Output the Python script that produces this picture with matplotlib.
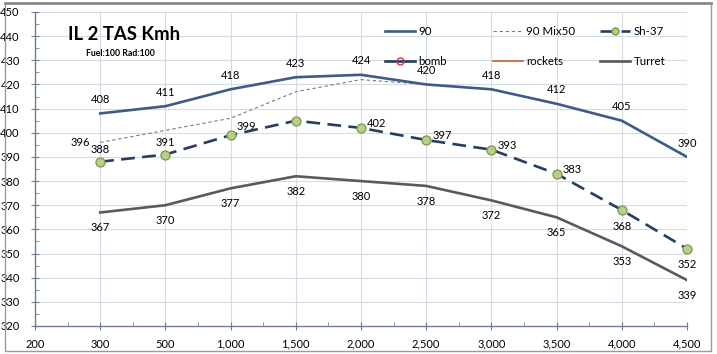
import numpy as np
import matplotlib
matplotlib.use("Agg")
import matplotlib.pyplot as plt
from matplotlib.lines import Line2D
from matplotlib.patches import Rectangle

plt.rcParams['font.family'] = ['Lato', 'DejaVu Sans']

# categories on the x axis (first one has no data)
cats = ['200', '300', '500', '1,000', '1,500', '2,000', '2,500', '3,000', '3,500', '4,000', '4,500']
nan = np.nan
s90 = [nan, 408, 411, 418, 423, 424, 420, 418, 412, 405, 390]
mix50 = [nan, 396, 401, 406, 417, 422, 420, 418, 412, 405, 390]
sh37 = [nan, 388, 391, 399, 405, 402, 397, 393, 383, 368, 352]
turret = [nan, 367, 370, 377, 382, 380, 378, 372, 365, 353, 339]
bomb = []
rockets = []

# which labels are shown and where
mix50_labels = [1]
sh37_right = [3, 5, 6, 7, 8]
sh37_above = [1, 2]
sh37_below = [9, 10]

x = np.arange(len(cats))

fig = plt.figure(figsize=(7.17, 3.54), dpi=100)
ax = fig.add_axes([35/717, 28/354, 652/717, 314/354])

c90 = '#3e5b85'
csh = '#253d5e'
cturret = '#5a5a5a'

ax.plot(x, mix50, color='#7a7a7a', lw=0.8, dashes=(3, 2.5), zorder=2)
ax.plot(x, s90, color=c90, lw=1.9, zorder=3)
ax.plot(x, turret, color=cturret, lw=1.9, zorder=3)
ax.plot(x, sh37, color=csh, lw=1.9, dashes=(5.2, 2.8), marker='o', ms=6.5,
        mfc='#b6cf8d', mec='#7b9a45', mew=0.9, zorder=4, clip_on=False)

fs = 8
for i in range(1, len(cats)):
    ax.annotate(str(s90[i]), (x[i], s90[i]), xytext=(0, 10), textcoords='offset points',
                ha='center', va='center', fontsize=fs)
    ax.annotate(str(turret[i]), (x[i], turret[i]), xytext=(0, -11), textcoords='offset points',
                ha='center', va='center', fontsize=fs)
for i in mix50_labels:
    ax.annotate(str(mix50[i]), (x[i], mix50[i]), xytext=(-7, 0), textcoords='offset points',
                ha='right', va='center', fontsize=fs)
for i in sh37_above:
    ax.annotate(str(sh37[i]), (x[i], sh37[i]), xytext=(0, 8.5), textcoords='offset points',
                ha='center', va='center', fontsize=fs)
for i in sh37_right:
    dy = 6 if i == 3 else 3
    ax.annotate(str(sh37[i]), (x[i], sh37[i]), xytext=(4.5, dy), textcoords='offset points',
                ha='left', va='center', fontsize=fs)
for i in sh37_below:
    ax.annotate(str(sh37[i]), (x[i], sh37[i]), xytext=(0, -11.5), textcoords='offset points',
                ha='center', va='center', fontsize=fs)

ax.set_xlim(0, len(cats) - 1)
ax.set_ylim(320, 450)
ax.set_xticks(x)
ax.set_xticklabels(cats)
ax.set_xticks(x[:-1] + 0.5, minor=True)
ax.set_yticks(np.arange(320, 451, 10))
ax.set_yticks(np.arange(325, 450, 10), minor=True)
ax.grid(True, which='major', color='#d3dbe6', lw=0.8)
ax.set_axisbelow(True)
for s in ['top', 'right']:
    ax.spines[s].set_visible(False)
for s in ['left', 'bottom']:
    ax.spines[s].set_color('#6f7d91')
    ax.spines[s].set_linewidth(1.0)
ax.tick_params(which='major', direction='inout', length=6, color='#6f7d91', labelsize=8, pad=6)
ax.tick_params(axis='y', which='major', pad=8)
ax.tick_params(which='minor', direction='in', length=3, color='#6f7d91')

# legend: three columns of two rows
cols = [
    [(Line2D([], [], color=c90, lw=1.9), '90'),
     (Line2D([], [], color=csh, lw=1.9, marker='o', ms=5, mfc='none', mec='#e03040'), 'bomb')],
    [(Line2D([], [], color='#7a7a7a', lw=0.8, dashes=(3, 2.5)), '90 Mix50'),
     (Line2D([], [], color='#c0652a', lw=1.2), 'rockets')],
    [(Line2D([], [], color=csh, lw=1.9, dashes=(5.2, 2.8), marker='o', ms=5,
             mfc='#b6cf8d', mec='#7b9a45'), 'Sh-37'),
     (Line2D([], [], color=cturret, lw=1.9), 'Turret')],
]
ax.plot(bomb, bomb)
ax.plot(rockets, rockets)
col_x = [385, 493, 600]
for cx, entries in zip(col_x, cols):
    leg = fig.legend([e[0] for e in entries], [e[1] for e in entries], loc='upper left',
                     bbox_to_anchor=(cx/717, (354 - 26)/354), frameon=False, fontsize=8.3,
                     borderpad=0, borderaxespad=0, handlelength=2.6, handletextpad=0.3,
                     labelspacing=1.65)

fig.text(68/717, (354 - 35)/354, 'IL 2 TAS Kmh', fontsize=13.3, fontweight='bold',
         ha='left', va='center')
fig.text(86/717, (354 - 53)/354, 'Fuel:100 Rad:100', fontsize=6.3, fontweight='bold',
         ha='left', va='center')

# chart frame
fig.patches.append(Rectangle((5/717, 3/354), 706/717, 348/354, transform=fig.transFigure,
                             fill=False, ec='#9a9a9a', lw=1.0))
fig.lines.append(Line2D([5/717, 711/717], [351.5/354, 351.5/354], transform=fig.transFigure,
                        color='#8a8a8a', lw=2))

fig.savefig('out.png', dpi=100)
